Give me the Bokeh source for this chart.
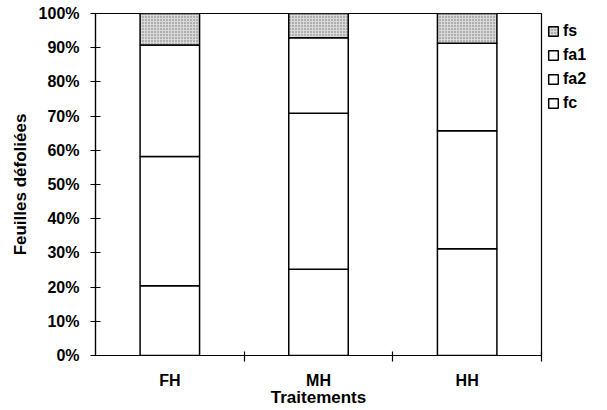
from bokeh.plotting import figure
from bokeh.models import (Range1d, LinearAxis, FixedTicker,
                          PrintfTickFormatter, Legend, LegendItem, ColumnDataSource)
from bokeh.embed import file_html
from bokeh.resources import INLINE

# ---- data (percent of defoliated leaves) ----
traitements = ["FH", "MH", "HH"]
fc = [20.4, 25.2, 31.2]
fa2 = [37.8, 45.6, 34.5]
fa1 = [32.6, 22.1, 25.6]
fs = [9.2, 7.1, 8.7]
y_ticks = [0, 10, 20, 30, 40, 50, 60, 70, 80, 90, 100]
series = ["fc", "fa2", "fa1", "fs"]

FONT = "Liberation Sans"

n = len(traitements)
xpos = [i + 0.5 for i in range(n)]          # category centres
bounds = [i + 1 for i in range(n)]          # category boundaries (tick marks)
src = ColumnDataSource(dict(x=xpos, fc=fc, fa2=fa2, fa1=fa1, fs=fs))

p = figure(frame_width=446, frame_height=342, x_range=Range1d(0, n),
           y_range=Range1d(0, 100), output_backend="svg", toolbar_location=None,
           x_axis_location=None, y_axis_location=None,
           min_border_left=95, min_border_right=60, min_border_top=13, min_border_bottom=50)
p.grid.visible = False
p.outline_line_color = "black"
p.outline_line_width = 1.2
p.background_fill_color = "white"
p.border_fill_color = "white"

# y axis
yax = LinearAxis(ticker=FixedTicker(ticks=y_ticks), formatter=PrintfTickFormatter(format="%d%%"))
yax.axis_label = "Feuilles défoliées"
yax.axis_label_text_font = FONT
yax.axis_label_text_font_style = "bold"
yax.axis_label_text_font_size = "17px"
yax.axis_label_text_color = "black"
yax.axis_label_standoff = 6
yax.major_label_text_font = FONT
yax.major_label_text_font_style = "bold"
yax.major_label_text_font_size = "16px"
yax.major_label_text_color = "black"
yax.major_tick_in = 5
yax.major_tick_out = 5
yax.major_tick_line_color = "black"
yax.minor_tick_line_color = None
yax.major_label_standoff = 11
yax.axis_line_width = 1.2
yax.axis_line_color = "black"
p.add_layout(yax, "left")

# x axis: labels at category centres, tick marks (minor) at category boundaries
xax = LinearAxis(ticker=FixedTicker(ticks=xpos, minor_ticks=bounds))
xax.major_label_overrides = {x: t for x, t in zip(xpos, traitements)}
xax.axis_line_color = "black"
xax.axis_line_width = 1.2
xax.major_tick_line_color = None
xax.major_tick_in = 0
xax.major_tick_out = 6
xax.minor_tick_line_color = "black"
xax.minor_tick_line_width = 1.2
xax.minor_tick_in = 4
xax.minor_tick_out = 6
xax.major_label_text_font = FONT
xax.major_label_text_font_style = "bold"
xax.major_label_text_font_size = "16px"
xax.major_label_text_color = "black"
xax.major_label_standoff = 10
xax.axis_label = "Traitements"
xax.axis_label_text_font = FONT
xax.axis_label_text_font_style = "bold"
xax.axis_label_text_font_size = "17px"
xax.axis_label_text_color = "black"
xax.axis_label_standoff = -4
p.add_layout(xax, "below")

fills = {"fc": "white", "fa2": "white", "fa1": "white", "fs": "#d9d9d9"}
renderers = p.vbar_stack(series, x="x", width=0.4, source=src,
                         fill_color=[fills[s] for s in series], line_color="black", line_width=1.5)
r_fs = renderers[-1]
r_fs.glyph.hatch_pattern = "dot"
r_fs.glyph.hatch_color = "#555555"
r_fs.glyph.hatch_scale = 3
r_fs.glyph.hatch_alpha = 0.8

items = [LegendItem(label=s, renderers=[r]) for s, r in zip(series, renderers)][::-1]
legend = Legend(items=items, location="top_left", orientation="vertical",
                glyph_width=12, glyph_height=12, label_standoff=4, spacing=0, padding=7, margin=6,
                label_text_font=FONT, label_text_font_style="bold", label_text_font_size="16px",
                label_text_color="black",
                label_height=24, border_line_color=None, background_fill_alpha=0)
p.add_layout(legend, "right")

open("out.html", "w").write(file_html(p, INLINE))
